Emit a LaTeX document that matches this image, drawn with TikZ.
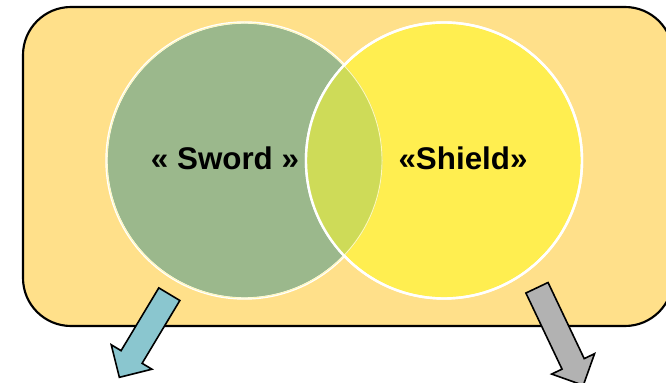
\documentclass[tikz,border=0pt]{standalone}
\usepackage{fontspec}
\setmainfont{Liberation Sans}
\usetikzlibrary{positioning}
\usetikzlibrary{shapes.arrows}
\definecolor{boxfill}{RGB}{255,224,138}
\definecolor{swordfill}{RGB}{155,184,140}
\definecolor{shieldfill}{RGB}{255,238,80}
\definecolor{lensfill}{RGB}{206,219,88}
\definecolor{swordarrow}{RGB}{138,198,207}
\definecolor{shieldarrow}{RGB}{178,178,178}
\begin{document}
\begin{tikzpicture}[x=0.75pt,y=0.75pt,
% Frame and sets style
    frame/.style={fill=boxfill,draw=black,line width=1.6pt,rounded corners=36pt},
    set/.style={circle,draw=white,line width=1.8pt,minimum size=276pt*0.75,inner sep=0pt},
    setlabel/.style={font={\fontsize{23.5pt}{28}\selectfont\bfseries}},
% Block arrow style
    blockarrow/.style={single arrow,draw=black,line width=1.2pt,inner sep=8.6pt,
		single arrow head extend=8.6pt,single arrow tip angle=90,anchor=center}
    ]
  \clip (0,0) rectangle (666,382);

  \draw[frame] (23,56) rectangle (673,375);

  \node (sword) [set,fill=swordfill] at (244.5,221.5) {};
  \node (shield) [set,fill=shieldfill] at (444,221.5) {};
  % overlap of the two sets
  \begin{scope}
    \clip (sword.center) circle (138);
    \fill[lensfill] (shield.center) circle (138);
    \draw[white!60!shieldfill,line width=1.4pt] (sword.center) circle (138);
  \end{scope}
  \draw[white,line width=1.8pt] (shield.center) circle (138);

  \node (swordlabel) [setlabel] at (225,224) {« Sword »};
  \node (shieldlabel) [setlabel] at (463,224) {«Shield»};

  \node (swordout) [blockarrow,fill=swordarrow,minimum height=97pt*0.75,rotate=-121]
    at (147.5,51.5) {};
  \node (shieldout) [blockarrow,fill=shieldarrow,minimum height=108pt*0.75,rotate=-64.6]
    at (557.5,51) {};

\end{tikzpicture}
\end{document}
